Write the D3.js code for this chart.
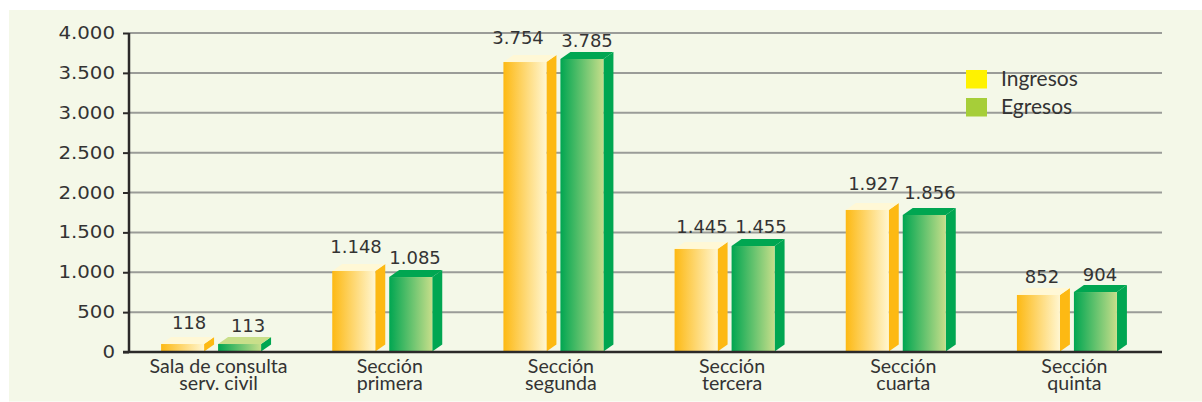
<!DOCTYPE html>
<html>
<head>
<meta charset="utf-8">
<script src="https://cdn.jsdelivr.net/npm/d3@7"></script>
<style>
  body { margin: 0; background: #fff; }
  svg { display: block; }
  .tick text { font-family: "DejaVu Sans"; font-size: 17.5px; fill: #333; }
  .value { font-family: "DejaVu Sans"; font-size: 18px; fill: #333; text-anchor: middle; }
  .cat { font-family: "Lato"; font-size: 19.6px; fill: #333; text-anchor: middle; }
  .legend { font-family: "Lato"; font-size: 21px; fill: #333; }
</style>
</head>
<body>
<script>
// categories, one list per label line
let categories = ["sala", "primera", "segunda", "tercera", "cuarta", "quinta"];
let catLine1 = ["Sala de consulta", "Sección", "Sección", "Sección", "Sección", "Sección"];
let catLine2 = ["serv. civil", "primera", "segunda", "tercera", "cuarta", "quinta"];

// printed values
let ingresos = [118, 1148, 3754, 1445, 1927, 852];
let egresos = [113, 1085, 3785, 1455, 1856, 904];

// height of the front face, read against the axis (the 3d bars fall short of the printed value)
let ingresosFront = [100, 1016, 3636, 1292, 1781, 715];
let egresosFront = [100, 940, 3674, 1329, 1718, 752];

let yTicks = [0, 500, 1000, 1500, 2000, 2500, 3000, 3500, 4000];
let legendLabels = ["Ingresos", "Egresos"];

// hand placement of the value labels, [dx, gap above the bar]
let ingresosNudge = [[6.5, 15], [2.3, 18], [-6.9, 18], [5.9, 16], [6.7, 20], [3.5, 12]];
let egresosNudge = [[8.5, 12], [4.3, 13], [5.1, 12], [7.9, 13], [5.7, 16], [4.5, 11]];

let width = 1202;
let height = 402;
let depthX = 10, depthY = 7;
let barW = 43;

let svg = d3.select("body").append("svg")
  .attr("width", width)
  .attr("height", height);

// panel
svg.append("rect")
  .attr("x", 9).attr("y", 10)
  .attr("width", width - 9).attr("height", 391.5)
  .attr("fill", "#f4f8e8");

let y = d3.scaleLinear().domain([0, 4000]).range([352, 33]);
let x = d3.scaleBand().domain(categories).range([133, 1160]);

// bars sit a little left of the label centre
function barLeft(i, k) {
  return x(categories[i]) + x.bandwidth() / 2 - 57.5 + k * 57;
}

let fmt = d3.formatLocale({ decimal: ",", thousands: ".", grouping: [3], currency: ["", ""] }).format(",d");

// gridlines
svg.append("g").selectAll("line")
  .data(yTicks.filter(function(d) { return d > 0; }))
  .enter().append("line")
  .attr("x1", 129).attr("x2", 1162)
  .attr("y1", function(d) { return y(d); })
  .attr("y2", function(d) { return y(d); })
  .attr("stroke", "#9a9c98")
  .attr("stroke-width", 2);

// gradients for the front faces
let defs = svg.append("defs");
function gradient(id, from, to) {
  let g = defs.append("linearGradient").attr("id", id);
  g.append("stop").attr("offset", "0%").attr("stop-color", from);
  g.append("stop").attr("offset", "100%").attr("stop-color", to);
}
gradient("gradOrange", "#fdb913", "#fff6d0");
gradient("gradGreen", "#00a651", "#c6de8a");

// one series of 3d bars
function drawBars(front, k, frontFill, sideFill, topFill) {
  let g = svg.append("g");
  let base = y(0) - 0.5;

  g.selectAll(".side").data(front).enter().append("polygon")
    .attr("fill", sideFill)
    .attr("points", function(d, i) {
      let r = barLeft(i, k) + barW, t = y(d);
      return [[r, t], [r + depthX, t - depthY], [r + depthX, base - depthY], [r, base]].join(" ");
    });

  g.selectAll(".top").data(front).enter().append("polygon")
    .attr("fill", function(d, i) { return typeof topFill === "function" ? topFill(i) : topFill; })
    .attr("points", function(d, i) {
      let l = barLeft(i, k), t = y(d);
      return [[l, t], [l + depthX, t - depthY], [l + barW + depthX, t - depthY], [l + barW, t]].join(" ");
    });

  g.selectAll(".front").data(front).enter().append("rect")
    .attr("x", function(d, i) { return barLeft(i, k); })
    .attr("y", function(d) { return y(d); })
    .attr("width", barW)
    .attr("height", function(d) { return base - y(d); })
    .attr("fill", frontFill);
}

drawBars(ingresosFront, 0, "url(#gradOrange)", "#fdb913", "#fff8d6");
drawBars(egresosFront, 1, "url(#gradGreen)", "#00a651", function(i) { return i === 0 ? "#c9df8a" : "#00a651"; });

// value labels
function drawValues(values, front, k, nudge) {
  svg.append("g").selectAll("text")
    .data(values)
    .enter().append("text")
    .attr("class", "value")
    .attr("x", function(d, i) { return barLeft(i, k) + barW / 2 + nudge[i][0]; })
    .attr("y", function(d, i) { return y(front[i]) - nudge[i][1]; })
    .text(function(d) { return fmt(d); });
}
drawValues(ingresos, ingresosFront, 0, ingresosNudge);
drawValues(egresos, egresosFront, 1, egresosNudge);

// y axis
let axisG = svg.append("g")
  .attr("transform", "translate(129,0)")
  .call(d3.axisLeft(y).tickValues(yTicks).tickSize(6).tickPadding(8).tickFormat(fmt));
axisG.select(".domain").attr("stroke", "#2b2a29").attr("stroke-width", 2.5).attr("d", "M0,33V352");
axisG.selectAll(".tick line").attr("stroke", "#2b2a29").attr("stroke-width", 2);
// tick labels are printed wider than the value labels
axisG.selectAll(".tick text").each(function() {
  d3.select(this)
    .attr("textLength", this.getComputedTextLength() * 1.13)
    .attr("lengthAdjust", "spacingAndGlyphs");
});

// baseline
svg.append("line")
  .attr("x1", 123).attr("x2", 1162)
  .attr("y1", y(0)).attr("y2", y(0))
  .attr("stroke", "#2b2a29")
  .attr("stroke-width", 2.5);

// category labels
let cat = svg.append("g").selectAll("text")
  .data(categories)
  .enter().append("text")
  .attr("class", "cat")
  .attr("x", function(d) { return x(d) + x.bandwidth() / 2; })
  .attr("y", 373);
cat.append("tspan").text(function(d, i) { return catLine1[i]; });
cat.append("tspan")
  .attr("x", function(d) { return x(d) + x.bandwidth() / 2; })
  .attr("dy", 17)
  .text(function(d, i) { return catLine2[i]; });

// legend
let legendColor = d3.scaleOrdinal().domain(legendLabels).range(["#fff200", "#a6ce39"]);
let legendY = d3.scalePoint().domain(legendLabels).range([70, 98]);
let legend = svg.append("g").selectAll("g")
  .data(legendLabels)
  .enter().append("g")
  .attr("transform", function(d) { return "translate(966," + legendY(d) + ")"; });
legend.append("rect")
  .attr("width", 21).attr("height", 18.5)
  .attr("fill", function(d) { return legendColor(d); });
legend.append("text")
  .attr("class", "legend")
  .attr("x", 35).attr("y", 15.5)
  .text(function(d) { return d; });
</script>
</body>
</html>
